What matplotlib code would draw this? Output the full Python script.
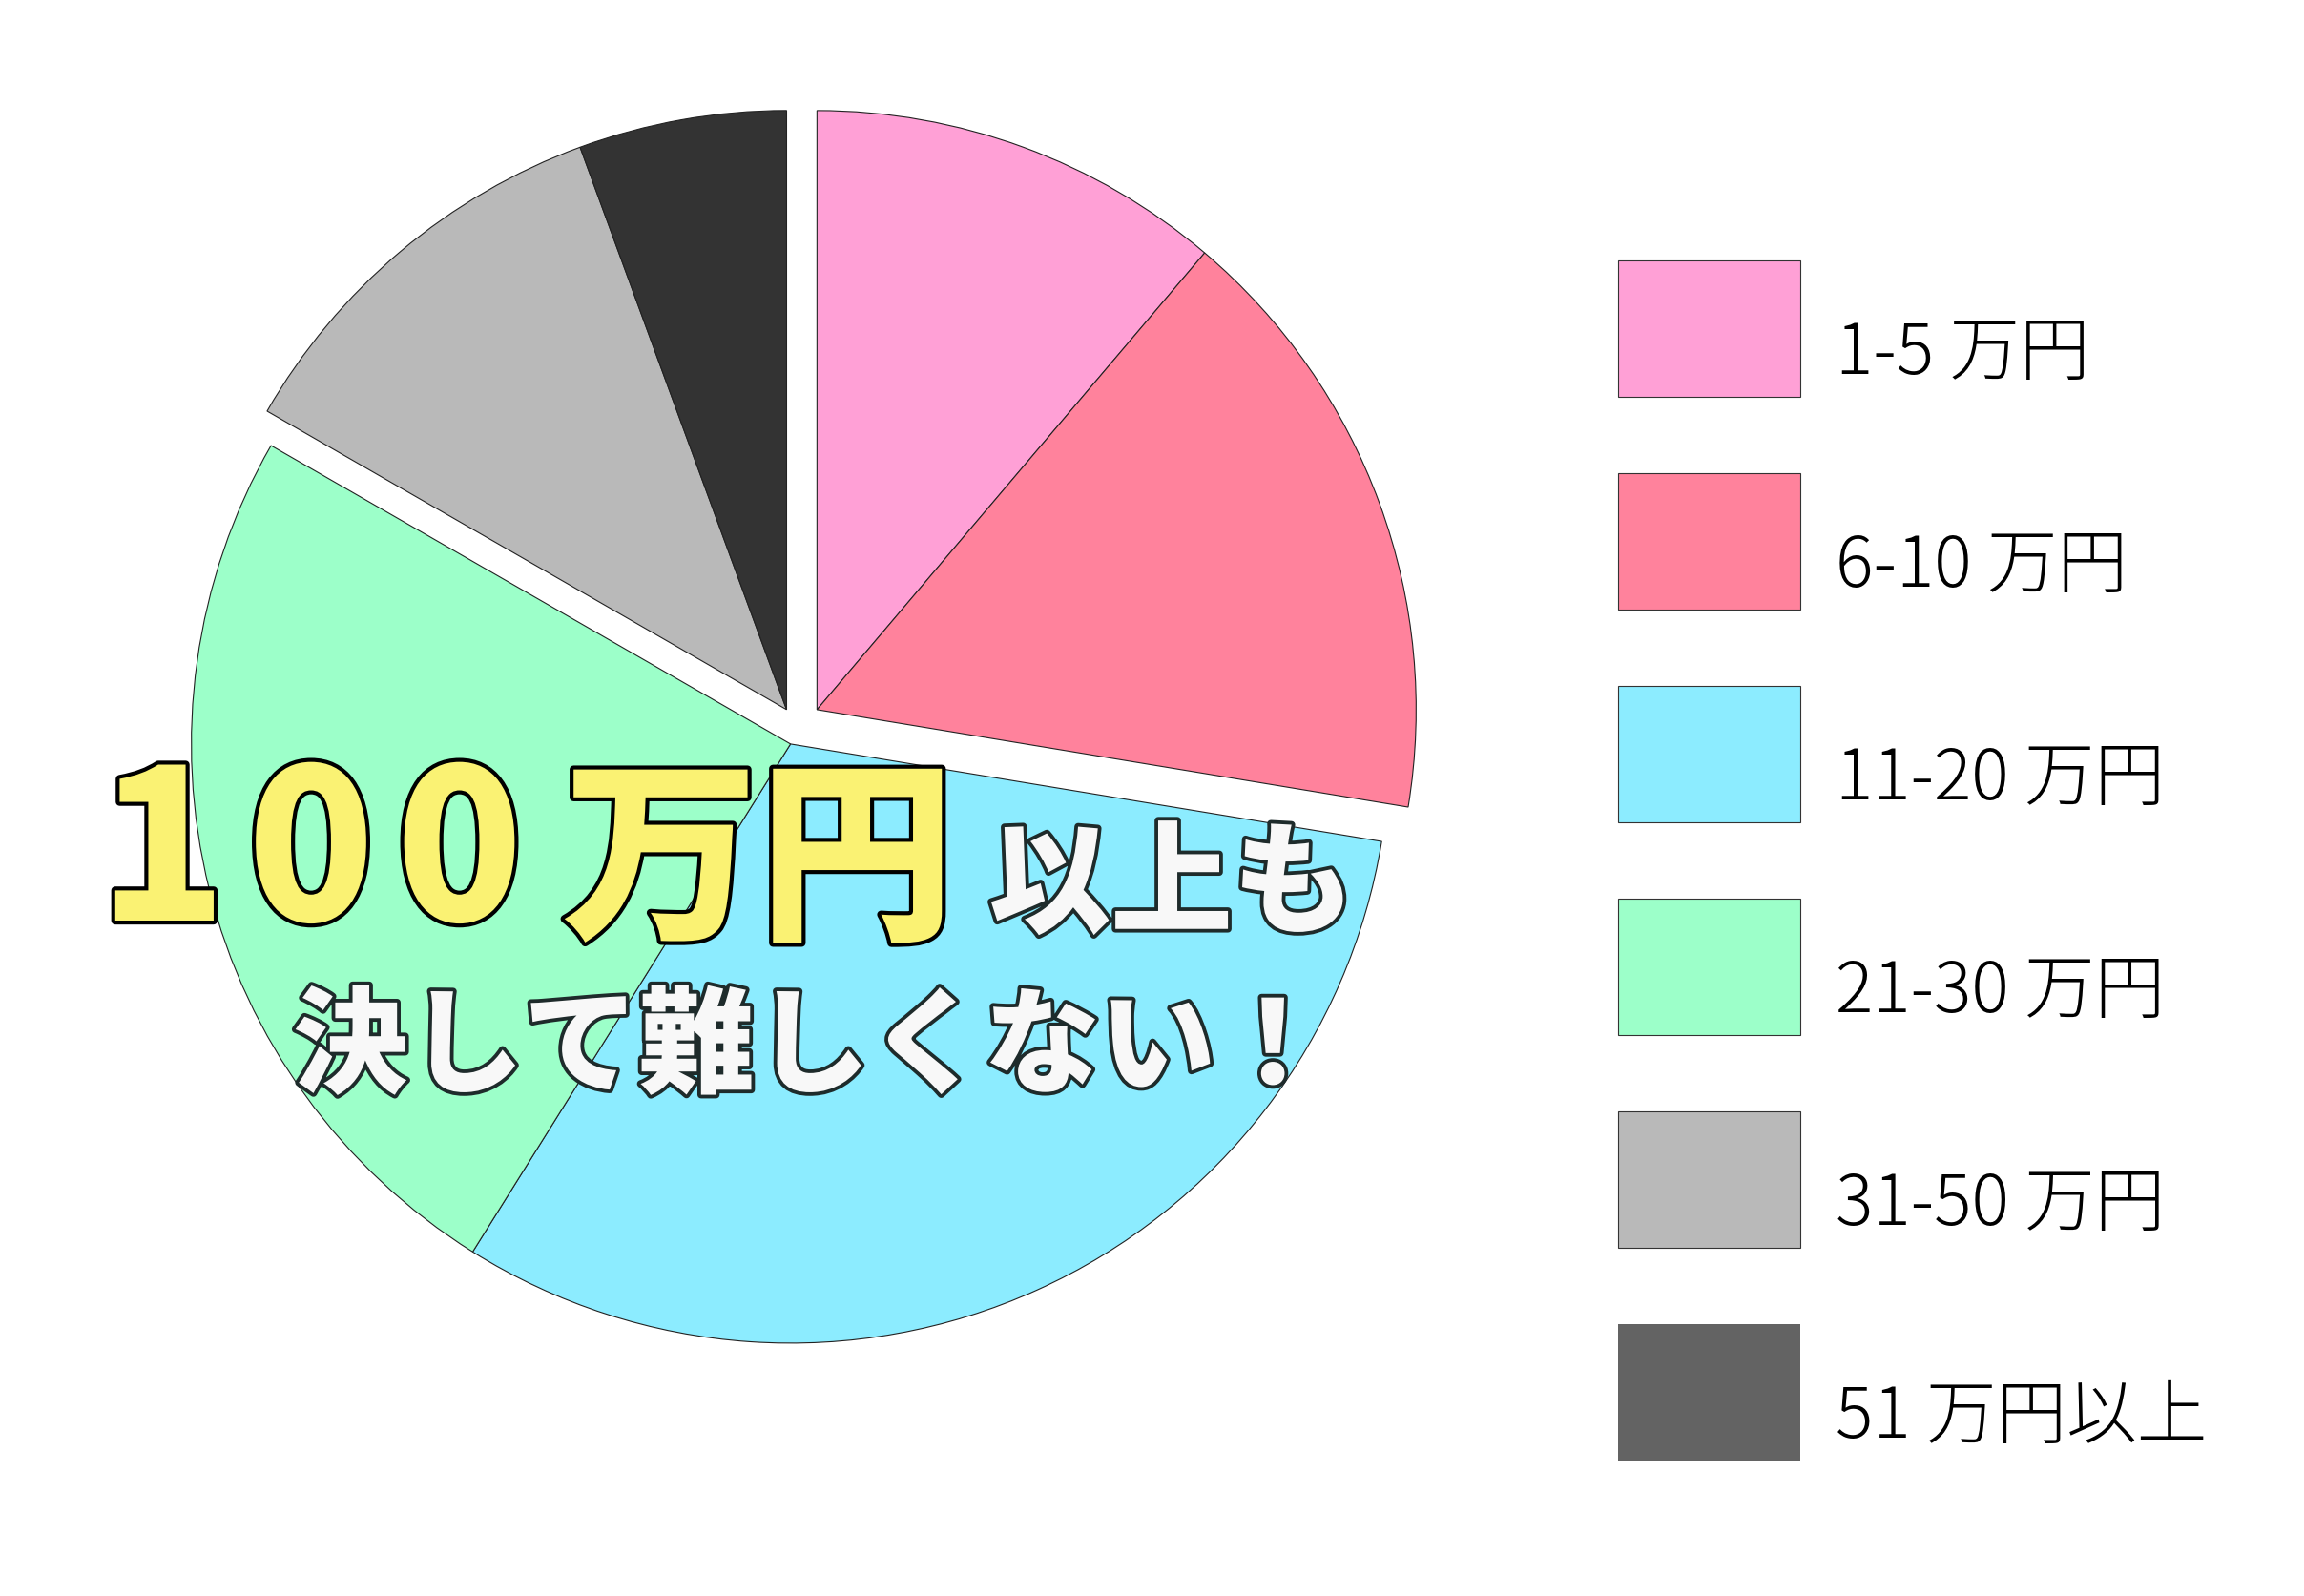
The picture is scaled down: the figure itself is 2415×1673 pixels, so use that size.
import numpy as np
import matplotlib
matplotlib.use("Agg")
import matplotlib.pyplot as plt
import matplotlib.patheffects as pe
import matplotlib.transforms as mtransforms
from matplotlib.patches import Patch

plt.rcParams['font.family'] = ['Noto Sans CJK JP', 'DejaVu Sans']

# data (share in %)
labels = ["1-5 万円", "6-10 万円", "11-20 万円", "21-30 万円", "31-50 万円", "51 万円以上"]
shares = [11.2, 16.4, 31.3, 24.4, 11.1, 5.6]
slice_colors = ["#FFA0D6", "#FF829C", "#8CECFF", "#9CFFC9", "#B9B9B9", "#333333"]
legend_colors = ["#FFA0D6", "#FF829C", "#8CECFF", "#9CFFC9", "#B9B9B9", "#636363"]

# slices pulled apart in three groups
groups = [0, 0, 1, 1, 2, 2]
group_shift = [28, 19, 21]  # px

W, H = 2415, 1674
fig = plt.figure(figsize=(W / 100, H / 100), dpi=100)
ax = fig.add_axes([0, 0, 1, 1])

cx, cy, r = 835, H - 763, 628
wedges, _ = ax.pie(shares, colors=slice_colors, startangle=90, counterclock=False,
                   center=(cx, cy), radius=r,
                   wedgeprops=dict(edgecolor="#222222", linewidth=0.8))

for g in range(3):
    ws = [w for w, k in zip(wedges, groups) if k == g]
    lo = min(w.theta1 for w in ws)
    hi = max(w.theta2 for w in ws)
    mid = np.deg2rad((lo + hi) / 2)
    d = group_shift[g]
    for w in ws:
        w.set_center((cx + d * np.cos(mid), cy + d * np.sin(mid)))

ax.set_xlim(0, W)
ax.set_ylim(0, H)
ax.set_aspect("equal")
ax.axis("off")

# legend
handles = [Patch(facecolor=c, edgecolor="#333333" if i < 5 else "none", linewidth=0.8)
           for i, c in enumerate(legend_colors)]
fs = 53
px = fs * 100 / 72
leg = fig.legend(handles, labels, loc="upper left", bbox_to_anchor=(1696 / W, 1 - 274 / H),
                 frameon=False, prop={"size": fs, "weight": "light"},
                 borderpad=0, borderaxespad=0,
                 handlelength=191 / px, handleheight=(143 / px - 0.245) / 0.65,
                 labelspacing=80 / px, handletextpad=0.5)
shift = mtransforms.ScaledTranslation(0, -24 / 100, fig.dpi_scale_trans)
for t in leg.get_texts():
    t.set_transform(t.get_transform() + shift)

# overlay text (hair spaces give the wide digit spacing)
yellow_fx = [pe.withStroke(linewidth=6, foreground="black")]
white_fx = [pe.withStroke(linewidth=5.5, foreground="#1E2B2B")]
ax.text(326, H - 966, "1\u200a0\u200a0", fontsize=158, fontweight="heavy", color="#FAF273",
        ha="center", va="baseline", path_effects=yellow_fx)
ax.text(795, H - 970, "万円", fontsize=148, fontweight="heavy", color="#FAF273",
        ha="center", va="baseline", path_effects=yellow_fx)
ax.text(1228, H - 969, "以上も", fontsize=92, fontweight="heavy", color="#F8F8F8",
        ha="center", va="baseline", path_effects=white_fx)
ax.text(851, H - 1137, "決して難しくない！", fontsize=87, fontweight="heavy", color="#F8F8F8",
        ha="center", va="baseline", path_effects=white_fx)

fig.savefig("out.png", dpi=100, facecolor="white")
